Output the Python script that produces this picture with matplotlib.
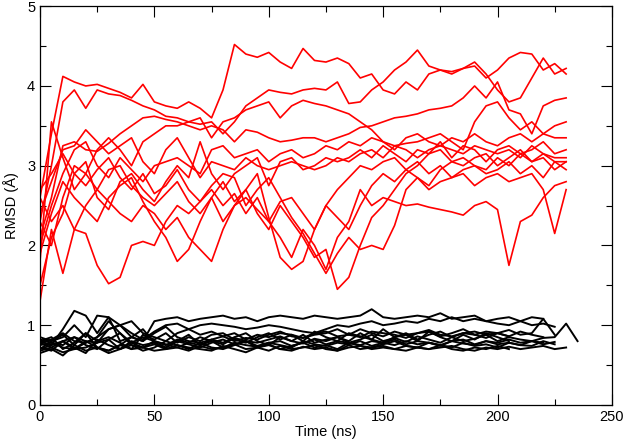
import numpy as np
import matplotlib
matplotlib.use("Agg")
import matplotlib.pyplot as plt
from matplotlib.ticker import MultipleLocator

plt.rcParams['font.family'] = ['Liberation Sans', 'DejaVu Sans']

# sampling step of the traces (ns)
step = 5

# red traces (RMSD in angstrom, one value every 5 ns)
red_1 = [2.6, 3.4, 4.12, 4.05, 4.0, 4.02, 3.97, 3.92, 3.85, 4.02, 3.8, 3.75, 3.72, 3.8, 3.72, 3.6,
         3.95, 4.52, 4.4, 4.36, 4.42, 4.3, 4.22, 4.47, 4.32, 4.3, 4.35, 4.28, 4.1, 4.15, 3.95, 3.9,
         4.05, 3.95, 4.15, 4.2, 4.15, 4.22, 4.25, 4.1, 4.2, 4.35, 4.42, 4.4, 4.2, 4.28, 4.15]
red_2 = [2.3, 3.0, 3.8, 3.95, 3.72, 3.95, 3.9, 3.88, 3.82, 3.75, 3.7, 3.62, 3.6, 3.55, 3.52, 3.55,
         3.4, 3.55, 3.75, 3.85, 3.95, 3.92, 3.9, 3.95, 3.97, 3.95, 4.05, 3.78, 3.8, 3.95, 4.05, 4.2,
         4.3, 4.45, 4.25, 4.2, 4.18, 4.22, 4.3, 4.15, 3.95, 3.8, 3.85, 4.1, 4.35, 4.15, 4.22]
red_3 = [2.1, 2.6, 3.25, 3.3, 3.2, 3.18, 3.28, 3.4, 3.5, 3.6, 3.62, 3.58, 3.55, 3.5, 3.45, 3.5,
         3.45, 3.3, 3.45, 3.42, 3.35, 3.3, 3.32, 3.35, 3.35, 3.3, 3.35, 3.4, 3.48, 3.5, 3.55, 3.6,
         3.62, 3.65, 3.7, 3.72, 3.75, 3.85, 4.0, 3.85, 4.05, 3.7, 3.65, 3.4, 3.75, 3.82, 3.85]
red_4 = [1.8, 3.55, 3.1, 2.7, 2.9, 3.2, 3.35, 3.2, 3.0, 3.3, 3.4, 3.5, 3.5, 3.55, 3.6, 3.35,
         3.55, 3.6, 3.7, 3.75, 3.8, 3.6, 3.75, 3.82, 3.78, 3.75, 3.7, 3.65, 3.55, 3.45, 3.3, 3.25,
         3.28, 3.3, 3.35, 3.4, 3.3, 3.2, 3.55, 3.75, 3.8, 3.6, 3.45, 3.55, 3.4, 3.5, 3.55]
red_5 = [2.0, 2.5, 2.9, 3.2, 3.3, 3.0, 2.85, 3.1, 2.95, 2.8, 3.0, 3.05, 3.1, 3.0, 2.9, 3.2,
         3.25, 3.1, 3.15, 3.2, 3.05, 3.15, 3.2, 3.1, 3.15, 3.25, 3.2, 3.3, 3.25, 3.35, 3.3, 3.2,
         3.35, 3.4, 3.3, 3.25, 3.35, 3.3, 3.4, 3.3, 3.25, 3.35, 3.4, 3.3, 3.4, 3.35, 3.35]
red_6 = [1.5, 2.1, 2.4, 2.9, 3.05, 2.6, 2.45, 2.8, 2.9, 2.7, 2.55, 2.8, 3.0, 2.85, 3.3, 2.9,
         2.7, 2.9, 3.0, 3.1, 2.75, 3.05, 3.1, 2.95, 3.0, 3.1, 3.05, 3.1, 3.2, 3.1, 3.25, 3.15,
         3.05, 3.2, 3.15, 3.3, 3.1, 3.25, 3.2, 3.05, 3.2, 3.25, 3.15, 3.2, 3.3, 3.15, 3.2]
red_7 = [2.3, 2.0, 2.6, 3.0, 2.9, 2.7, 2.95, 3.0, 2.75, 2.6, 2.5, 2.65, 2.8, 2.55, 2.4, 2.6,
         2.3, 2.5, 2.7, 2.4, 2.2, 2.5, 2.3, 2.1, 1.85, 1.95, 1.45, 1.6, 2.0, 2.35, 2.5, 2.7,
         2.9, 3.0, 3.15, 3.2, 3.05, 3.1, 3.0, 2.95, 3.1, 3.0, 3.15, 3.05, 3.1, 2.95, 3.05]
red_8 = [2.6, 2.3, 2.5, 2.2, 2.15, 1.75, 1.52, 1.6, 2.0, 2.05, 2.0, 2.3, 2.5, 2.4, 2.55, 2.7,
         2.5, 2.65, 2.4, 2.6, 2.3, 2.1, 1.85, 2.2, 2.0, 1.7, 2.1, 2.3, 2.7, 2.5, 2.6, 2.55,
         2.5, 2.52, 2.48, 2.45, 2.42, 2.38, 2.5, 2.55, 2.45, 1.75, 2.3, 2.38, 2.6, 2.75, 2.8]
red_9 = [1.3, 2.2, 1.65, 2.2, 2.5, 2.7, 2.55, 2.4, 2.3, 2.5, 2.4, 2.2, 2.35, 2.1, 1.95, 1.8,
         2.2, 2.5, 2.6, 2.45, 2.3, 2.55, 2.6, 2.4, 2.2, 2.5, 2.35, 2.2, 2.5, 2.75, 2.9, 2.8,
         2.95, 2.85, 2.7, 2.8, 2.85, 2.9, 2.75, 2.85, 2.9, 2.8, 2.85, 2.9, 2.7, 2.15, 2.7]
red_10 = [1.9, 2.4, 2.8, 2.6, 2.45, 2.3, 2.6, 2.75, 2.85, 2.55, 2.3, 2.1, 1.8, 1.95, 2.3, 2.6,
          2.8, 2.55, 2.7, 2.9, 2.35, 1.85, 1.7, 1.8, 2.2, 2.5, 2.7, 2.85, 3.0, 2.95, 3.05, 3.1,
          2.95, 3.05, 2.9, 3.0, 2.85, 2.95, 3.0, 2.9, 2.95, 3.05, 2.9, 3.0, 2.85, 3.05, 2.95]
red_11 = [2.7, 2.9, 3.15, 2.9, 2.75, 2.95, 3.1, 2.85, 2.7, 2.9, 2.65, 2.75, 2.95, 2.7, 2.55, 2.75,
          2.9, 2.85, 2.5, 2.7, 2.85, 2.6, 2.35, 2.15, 1.9, 1.65, 1.9, 2.1, 1.95, 2.0, 1.95, 2.25,
          2.7, 2.85, 2.75, 2.95, 3.05, 3.0, 3.1, 3.15, 3.0, 3.1, 3.2, 3.05, 3.15, 3.1, 3.1]
red_12 = [2.4, 2.8, 3.2, 3.25, 3.45, 3.3, 3.15, 3.25, 3.35, 3.05, 2.9, 3.2, 3.35, 3.1, 2.85, 3.05,
          3.0, 2.95, 3.1, 3.0, 2.95, 3.0, 3.05, 3.0, 2.95, 3.0, 3.1, 3.05, 3.15, 3.2, 3.1, 3.25,
          3.2, 3.1, 3.2, 3.25, 3.2, 3.15, 3.25, 3.2, 3.15, 3.2, 3.1, 3.25, 3.15, 3.05, 3.05]

# black traces
black_1 = [0.8, 0.75, 0.95, 1.18, 1.12, 0.9, 1.1, 0.8, 0.85, 0.8, 1.05, 1.08, 1.1, 1.05, 1.08, 1.1,
           1.12, 1.08, 1.1, 1.05, 1.1, 1.12, 1.1, 1.08, 1.12, 1.1, 1.08, 1.1, 1.12, 1.2, 1.1, 1.08,
           1.1, 1.12, 1.1, 1.15, 1.08, 1.1, 1.12, 1.05, 1.08, 1.1, 1.05, 1.1, 1.08]
black_2 = [0.7, 0.8, 0.85, 1.0, 0.85, 1.12, 1.1, 1.0, 1.05, 0.9, 0.85, 0.8, 0.9, 0.95, 1.0, 1.02,
           1.0, 0.98, 0.95, 0.97, 1.0, 0.98, 0.95, 0.92, 0.9, 0.95, 1.0, 0.98, 1.02, 1.05, 1.0, 1.02,
           1.05, 1.03, 1.08, 1.05, 1.1, 1.05, 1.08, 1.05, 1.02, 1.0, 1.05, 1.0, 1.02, 0.98]
black_3 = [0.78, 0.72, 0.8, 0.85, 0.75, 0.7, 0.82, 0.9, 0.78, 0.85, 0.8, 0.75, 0.82, 0.78, 0.85, 0.8,
           0.76, 0.84, 0.8, 0.78, 0.82, 0.86, 0.8, 0.77, 0.83, 0.8, 0.85, 0.78, 0.82, 0.88, 0.8, 0.84,
           0.79, 0.86, 0.82, 0.78, 0.85, 0.8, 0.83, 0.88, 0.8, 0.85, 0.82, 0.8, 0.84, 0.85, 1.02, 0.8]
black_4 = [0.65, 0.7, 0.62, 0.75, 0.68, 0.72, 0.65, 0.7, 0.78, 0.72, 0.68, 0.7, 0.75, 0.72, 0.7, 0.68,
           0.74, 0.7, 0.66, 0.72, 0.75, 0.7, 0.68, 0.73, 0.7, 0.72, 0.68, 0.75, 0.7, 0.72, 0.74, 0.7,
           0.68, 0.72, 0.7, 0.75, 0.7, 0.68, 0.72, 0.7, 0.74, 0.7]
black_5 = [0.85, 0.8, 0.88, 0.75, 0.9, 0.8, 0.85, 0.78, 0.7, 0.88, 0.82, 0.9, 0.78, 0.85, 0.8, 0.88,
           0.9, 0.82, 0.78, 0.85, 0.9, 0.82, 0.88, 0.8, 0.92, 0.85, 0.8, 0.9, 0.86, 0.82, 0.95, 0.85,
           0.9, 0.82, 0.88, 0.92, 0.85, 0.9, 0.88, 0.84, 0.9, 0.86, 0.92, 0.88, 0.85]
black_6 = [0.72, 0.68, 0.8, 0.72, 0.65, 0.82, 0.75, 0.7, 0.8, 0.75, 0.78, 0.72, 0.8, 0.76, 0.72, 0.78,
           0.82, 0.76, 0.8, 0.74, 0.78, 0.8, 0.74, 0.78, 0.82, 0.76, 0.8, 0.78, 0.75, 0.8, 0.78, 0.82,
           0.76, 0.8, 0.78, 0.75, 0.8, 0.82, 0.76, 0.8, 0.78, 0.82, 0.78, 0.8, 0.76, 0.79]
black_7 = [0.8, 0.85, 0.7, 0.78, 0.9, 0.72, 0.68, 0.75, 0.85, 0.95, 0.78, 0.72, 0.8, 0.88, 0.75, 0.82,
           0.78, 0.85, 0.9, 0.8, 0.75, 0.85, 0.8, 0.88, 0.78, 0.82, 0.85, 0.8, 0.9, 0.82, 0.78, 0.85,
           0.88, 0.8, 0.92, 0.85, 0.8, 0.88, 0.82, 0.9, 0.85, 0.8]
black_8 = [0.75, 0.78, 0.72, 0.7, 0.78, 0.85, 1.05, 0.9, 0.75, 0.72, 0.8, 0.76, 0.72, 0.78, 0.75, 0.8,
           0.72, 0.78, 0.75, 0.73, 0.78, 0.75, 0.72, 0.8, 0.76, 0.74, 0.78, 0.76, 0.8, 0.74, 0.78, 0.75,
           0.8, 0.76, 0.78, 0.74, 0.8, 0.77, 0.75, 0.8, 0.76, 0.78, 0.75, 0.8, 0.78]
black_9 = [0.7, 0.75, 0.8, 0.7, 0.72, 0.78, 0.82, 0.7, 0.75, 0.68, 0.72, 0.8, 0.75, 0.7, 0.78, 0.72,
           0.7, 0.75, 0.8, 0.72, 0.76, 0.7, 0.74, 0.78, 0.72, 0.75, 0.7, 0.78, 0.74, 0.72, 0.76, 0.8,
           0.74, 0.72, 0.78, 0.75, 0.72, 0.78, 0.74, 0.76, 0.72, 0.78, 0.75, 0.74, 0.8, 0.76]
black_10 = [0.82, 0.78, 0.75, 0.85, 0.8, 0.78, 0.95, 1.0, 0.85, 0.8, 0.9, 0.98, 0.85, 0.8, 0.78, 0.82,
            0.86, 0.8, 0.84, 0.82, 0.88, 0.92, 0.86, 0.84, 0.88, 0.9, 0.95, 0.88, 0.85, 0.92, 0.9, 0.88,
            0.84, 0.9, 0.92, 0.86, 0.9, 0.95, 0.88, 0.92, 0.9, 0.94, 0.88, 0.9, 1.08, 0.88]
black_11 = [0.68, 0.72, 0.66, 0.7, 0.8, 0.72, 0.68, 0.75, 0.7, 0.72, 0.76, 0.7, 0.72, 0.68, 0.74, 0.7,
            0.72, 0.76, 0.7, 0.72, 0.68, 0.74, 0.7, 0.72, 0.75, 0.7, 0.68, 0.72, 0.74, 0.7, 0.72, 0.7,
            0.74, 0.72, 0.7, 0.72, 0.74, 0.7, 0.68, 0.72, 0.7, 0.73, 0.7, 0.72, 0.74, 0.7, 0.72]
black_12 = [0.78, 0.82, 0.9, 0.8, 0.78, 0.85, 0.95, 1.0, 0.9, 0.82, 0.92, 1.0, 1.02, 0.95, 0.88, 0.92,
            0.86, 0.9, 0.82, 0.88, 0.85, 0.9, 0.88, 0.84, 0.9, 0.92, 0.86, 0.88, 0.95, 0.9, 0.86, 0.92,
            0.88, 0.9, 0.94, 0.88, 0.86, 0.9, 0.92, 0.88, 0.9, 0.86]

red_runs = [red_1, red_2, red_3, red_4, red_5, red_6, red_7, red_8, red_9, red_10, red_11, red_12]
black_runs = [black_1, black_2, black_3, black_4, black_5, black_6, black_7, black_8, black_9,
              black_10, black_11, black_12]

fig = plt.figure(figsize=(6.25, 4.44), dpi=100)
ax = fig.add_axes([0.064, 0.088, 0.915, 0.898])

for run in red_runs:
    t = np.arange(len(run)) * step
    ax.plot(t, run, color='red', lw=1.2)
for run in black_runs:
    t = np.arange(len(run)) * step
    ax.plot(t, run, color='black', lw=1.4)

ax.set_xlim(0, 250)
ax.set_ylim(0, 5)
ax.xaxis.set_major_locator(MultipleLocator(50))
ax.xaxis.set_minor_locator(MultipleLocator(25))
ax.yaxis.set_major_locator(MultipleLocator(1))
ax.yaxis.set_minor_locator(MultipleLocator(0.5))
ax.tick_params(which='both', direction='in', top=True, right=True, labelsize=10.5, width=0.8)
ax.tick_params(which='major', length=8)
ax.tick_params(which='minor', length=4.5)
for s in ax.spines.values():
    s.set_linewidth(0.9)

ax.set_xlabel('Time (ns)', fontsize=10.5, labelpad=1)
ax.set_ylabel('RMSD (Å)', fontsize=10.5, labelpad=6)

fig.savefig('out.png', dpi=100)
